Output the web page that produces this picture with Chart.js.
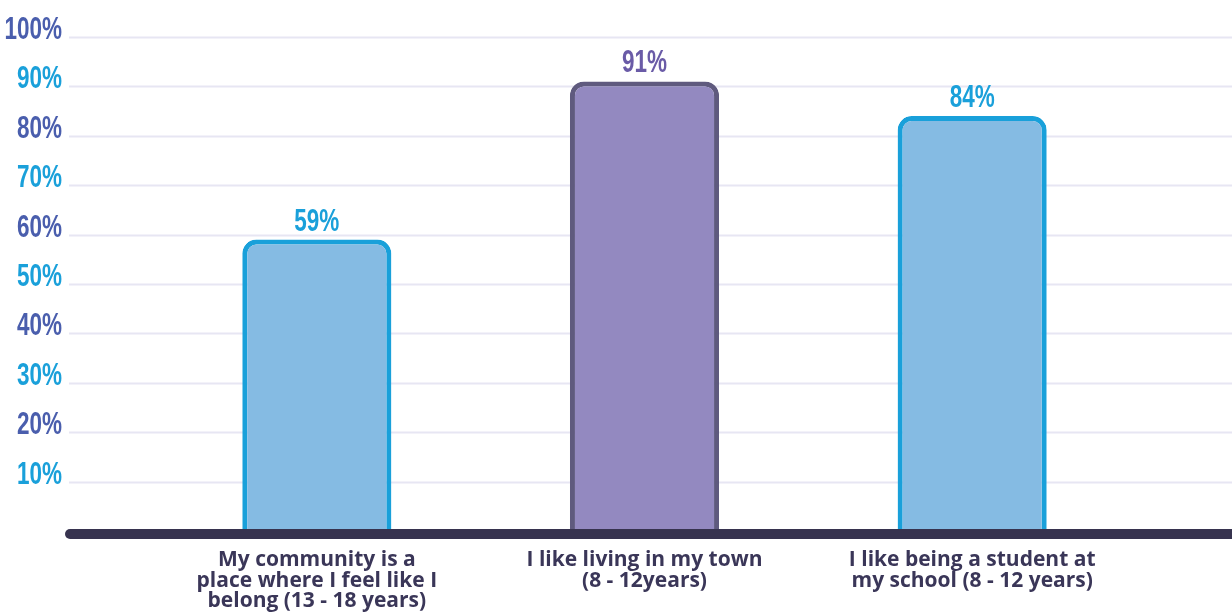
<!DOCTYPE html>
<html lang="en">
<head>
	<meta charset="UTF-8" />
	<title>Belonging</title>
	<script src="https://cdn.jsdelivr.net/npm/chart.js@4.4.1/dist/chart.umd.min.js"></script>
	<style>
		html, body { margin: 0; padding: 0; background: #fff; }
		#wrap { position: relative; width: 1232px; height: 615px; }
	</style>
</head>
<body>
	<div id="wrap">
		<canvas id="myChart"></canvas>
	</div>
<script>
	const categories = [
		['My community is a', 'place where I feel like I', 'belong (13 - 18 years)'],
		['I like living in my town', '(8 - 12years)'],
		['I like being a student at', 'my school (8 - 12 years)']
	];
	const values = [59, 91, 84];
	const yTickValues = [10, 20, 30, 40, 50, 60, 70, 80, 90, 100];

	const fills = ['#85bbe3', '#9389c0', '#85bbe3'];
	const borders = ['#19a0da', '#5f5a7e', '#19a0da'];
	const valueColors = ['#1aa0da', '#6a5ba7', '#1aa0da'];
	const tickColors = ['#1aa0da', '#4a5ead'];
	const numFont = 'bold 31px "Liberation Sans", Arial, sans-serif';

	// condensed number text: squeeze so "90%" is about 45px wide
	function narrowText(ctx, text, x, y, align, color) {
		ctx.save();
		ctx.font = numFont;
		const squeeze = 45 / ctx.measureText('90%').width;
		ctx.fillStyle = color;
		ctx.textBaseline = 'alphabetic';
		ctx.textAlign = align;
		ctx.translate(x, y);
		ctx.scale(squeeze, 1);
		ctx.fillText(text, 0, 0);
		ctx.restore();
	}

	const decor = {
		id: 'decor',
		beforeDatasetsDraw(chart) {
			const ctx = chart.ctx, y = chart.scales.y;
			ctx.save();
			ctx.strokeStyle = '#e7e6f3';
			ctx.lineWidth = 2;
			yTickValues.forEach((v, i) => {
				const py = Math.round(y.getPixelForValue(v)) + 0.5;
				ctx.beginPath();
				ctx.moveTo(69, py);
				ctx.lineTo(chart.width, py);
				ctx.stroke();
				narrowText(ctx, v + '%', 62, py + 1, 'right', tickColors[i % 2]);
			});
			ctx.restore();
		},
		afterDatasetsDraw(chart) {
			const ctx = chart.ctx, y = chart.scales.y;
			const base = y.getPixelForValue(0);
			ctx.save();
			ctx.strokeStyle = '#37334f';
			ctx.lineWidth = 10;
			ctx.lineCap = 'round';
			ctx.beginPath();
			ctx.moveTo(70, base + 3);
			ctx.lineTo(chart.width + 10, base + 3);
			ctx.stroke();
			ctx.restore();
			chart.getDatasetMeta(0).data.forEach((bar, i) => {
				narrowText(ctx, values[i] + '%', bar.x, bar.y - 9, 'center', valueColors[i]);
			});
		}
	};

	const ctx = document.getElementById('myChart').getContext('2d');
	const chart = new Chart(ctx, {
		type: 'bar',
		data: {
			labels: categories,
			datasets: [{
				data: values,
				backgroundColor: fills,
				borderColor: borders,
				borderWidth: 5,
				borderRadius: { topLeft: 14, topRight: 14 },
				borderSkipped: 'bottom',
				barPercentage: 0.455,
				categoryPercentage: 1
			}]
		},
		options: {
			responsive: true,
			maintainAspectRatio: false,
			animation: false,
			layout: { padding: { left: 153, right: 96, top: 37, bottom: 0 } },
			plugins: {
				legend: { display: false },
				tooltip: { enabled: false }
			},
			scales: {
				y: {
					display: false,
					min: 0,
					max: 100,
					ticks: { stepSize: 10 }
				},
				x: {
					grid: { display: false },
					border: { display: false },
					ticks: {
						padding: 11,
						color: '#3a3658',
						font: { family: '"Open Sans", "Noto Sans", sans-serif', size: 21, weight: 'bold', lineHeight: 0.98 }
					},
					afterFit(scale) { scale.height = 84; }
				}
			}
		},
		plugins: [decor]
	});
</script>
</body>
</html>
